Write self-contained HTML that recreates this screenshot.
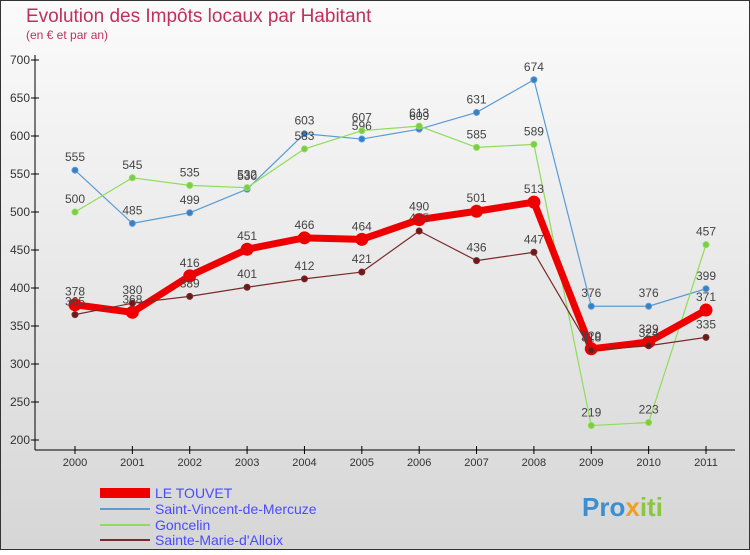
<!DOCTYPE html>
<html><head><meta charset="utf-8"><style>
body{margin:0;width:750px;height:550px;overflow:hidden;font-family:"Liberation Sans",sans-serif}
</style></head><body>
<svg id="c" width="750" height="550" xmlns="http://www.w3.org/2000/svg">
<defs><linearGradient id="bg" x1="0" y1="0" x2="0" y2="1"><stop offset="0" stop-color="#fbfbfb"/><stop offset="1" stop-color="#d6d6d6"/></linearGradient></defs>
<rect x="0.5" y="0.5" width="749" height="549" fill="url(#bg)" stroke="#333"/>
<text x="26" y="22" font-size="19" fill="#c0305a">Evolution des Impôts locaux par Habitant</text>
<text x="26" y="39" font-size="12" fill="#c0305a">(en € et par an)</text>
<g id="axes"></g><g id="series"></g>
<g>
<rect x="100" y="488" width="50" height="10" fill="#e00"/>
<text x="155" y="498" font-size="14" fill="#4a4aff">LE TOUVET</text>
<line x1="100" y1="509" x2="150" y2="509" stroke="#5a9bd5" stroke-width="2"/>
<text x="155" y="514" font-size="14" fill="#4a4aff">Saint-Vincent-de-Mercuze</text>
<line x1="100" y1="525" x2="150" y2="525" stroke="#8fdc5a" stroke-width="2"/>
<text x="155" y="530" font-size="14" fill="#4a4aff">Goncelin</text>
<line x1="100" y1="540" x2="150" y2="540" stroke="#7a2a2a" stroke-width="2"/>
<text x="155" y="545" font-size="14" fill="#4a4aff">Sainte-Marie-d'Alloix</text>
</g>
<text x="582" y="516" font-size="26" font-weight="bold" fill="#3a8fd0">Pro<tspan fill="#f0a020">x</tspan><tspan fill="#8cc63f">iti</tspan></text>
</svg>
<script>
const years=["2000","2001","2002","2003","2004","2005","2006","2007","2008","2009","2010","2011"];
const yTicks=[200,250,300,350,400,450,500,550,600,650,700];
const leTouvet=[378,368,416,451,466,464,490,501,513,320,329,371];
const saintVincent=[555,485,499,530,603,596,609,631,674,376,376,399];
const goncelin=[500,545,535,532,583,607,613,585,589,219,223,457];
const sainteMarie=[365,380,389,401,412,421,475,436,447,318,324,335];
const NS="http://www.w3.org/2000/svg";
const X=i=>75+i*(706-75)/11, Y=v=>440-(v-200)*0.76;
function mk(t,a,p){const e=document.createElementNS(NS,t);for(const k in a)e.setAttribute(k,a[k]);p.appendChild(e);return e;}
const ax=document.getElementById('axes');
const yl=mk('line',{x1:35,y1:55,x2:35,y2:450,stroke:'#000'},ax);


const xl=mk('line',{x1:35,y1:450,x2:735,y2:450,stroke:'#000'},ax);


yTicks.forEach(v=>{mk('line',{x1:31,y1:Y(v),x2:39,y2:Y(v),stroke:'#000'},ax);
const t=mk('text',{x:30,y:Y(v)+4,'font-size':12,'text-anchor':'end',fill:'#333'},ax);t.textContent=v;

});
years.forEach((y,i)=>{mk('line',{x1:X(i),y1:446,x2:X(i),y2:454,stroke:'#000'},ax);
const t=mk('text',{x:X(i),y:466,'font-size':11,'text-anchor':'middle',fill:'#333'},ax);t.textContent=y;

});
const sg=document.getElementById('series');
function draw(data,name,col,w,r,dot){
const g=mk('g',{},sg);


mk('polyline',{points:data.map((v,i)=>X(i)+','+Y(v)).join(' '),fill:'none',stroke:col,'stroke-width':w,'stroke-linejoin':'round'},g);
data.forEach((v,i)=>{const c=mk('circle',{cx:X(i),cy:Y(v),r:r,fill:dot,stroke:col,'stroke-width':1},g);


const t=mk('text',{x:X(i),y:Y(v)-9,'font-size':12,'text-anchor':'middle',fill:'#444'},g);t.textContent=v;

});
}
draw(saintVincent,'saint-vincent-series','#5a9bd5',1.2,3,'#3a7fc0');
draw(goncelin,'goncelin-series','#8fdc5a',1.2,3,'#7ccc44');
draw(leTouvet,'le-touvet-series','#ee0000',7,6,'#ee0000');
draw(sainteMarie,'sainte-marie-series','#7a2a2a',1.2,3,'#6a1a1a');
</script>
</body></html>
